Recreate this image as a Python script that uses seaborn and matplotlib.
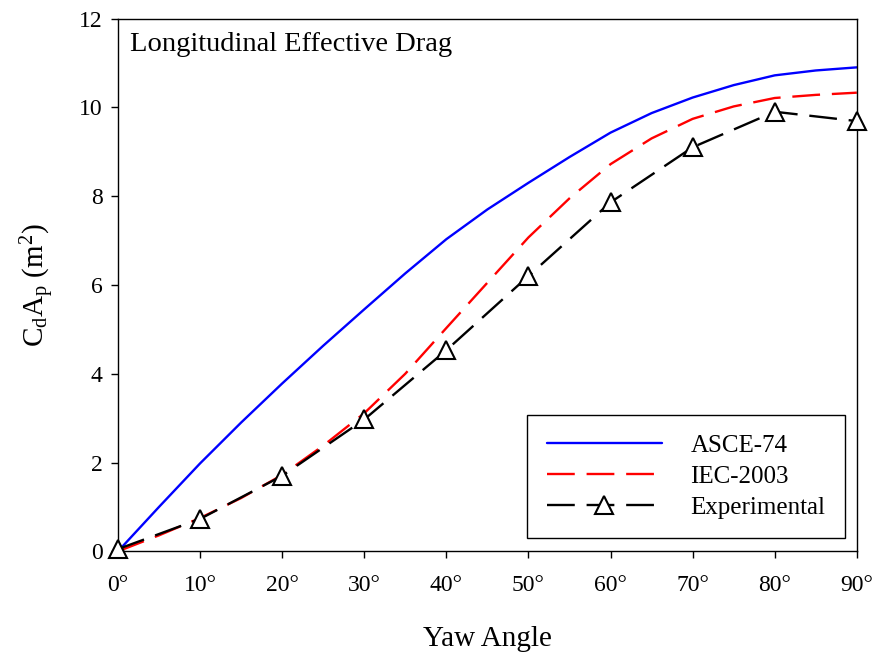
import matplotlib
matplotlib.use("Agg")
import matplotlib.pyplot as plt
import seaborn as sns

# Yaw angles (degrees)
angles_fine = [0, 5, 10, 15, 20, 25, 30, 35, 40, 45, 50, 55, 60, 65, 70, 75, 80, 85, 90]
angles_exp = [0, 10, 20, 30, 40, 50, 60, 70, 80, 90]

# Effective drag area CdAp (m^2)
asce74 = [0.0, 1.0, 1.98, 2.9, 3.78, 4.63, 5.45, 6.26, 7.03, 7.7, 8.3, 8.88, 9.43,
          9.87, 10.22, 10.5, 10.72, 10.83, 10.9]
iec2003 = [0.0, 0.36, 0.75, 1.2, 1.72, 2.38, 3.11, 4.0, 5.03, 6.05, 7.07, 7.95, 8.72,
           9.3, 9.74, 10.02, 10.21, 10.28, 10.33]
experimental = [0.05, 0.73, 1.70, 2.97, 4.53, 6.2, 7.86, 9.10, 9.90, 9.69]

x_ticks = [0, 10, 20, 30, 40, 50, 60, 70, 80, 90]
x_ticklabels = [f"{v}°" for v in x_ticks]
y_ticks = [0, 2, 4, 6, 8, 10, 12]

sns.set_style("ticks")
plt.rcParams["font.family"] = ["Liberation Serif", "DejaVu Serif"]
plt.rcParams["mathtext.fontset"] = "custom"
plt.rcParams["mathtext.rm"] = "Liberation Serif"
plt.rcParams["mathtext.it"] = "Liberation Serif:italic"
plt.rcParams["lines.scale_dashes"] = False
plt.rcParams["text.color"] = "black"
plt.rcParams["axes.labelcolor"] = "black"

fig = plt.figure(figsize=(8.77, 6.52), dpi=100)
ax = fig.add_axes([0.1345, 0.1544, 0.8425, 0.8172])

sns.lineplot(x=angles_fine, y=asce74, ax=ax, color="#0000ff", linewidth=1.7,
             label="ASCE-74", clip_on=False)
sns.lineplot(x=angles_fine, y=iec2003, ax=ax, color="#ff0000", linewidth=1.7,
             linestyle=(0, (20, 8.5)), label="IEC-2003", clip_on=False)
sns.lineplot(x=angles_exp, y=experimental, ax=ax, color="black", linewidth=1.7,
             linestyle=(0, (20, 8.5)), marker="^", markersize=13,
             markerfacecolor="white", markeredgecolor="black", markeredgewidth=1.5,
             label="Experimental", clip_on=False, zorder=5)

ax.set_xlim(0, 90)
ax.set_ylim(0, 12)
ax.set_xticks(x_ticks)
ax.set_xticklabels(x_ticklabels)
ax.set_yticks(y_ticks)
ax.tick_params(axis="both", direction="out", length=5, width=1, labelsize=17,
               colors="black")
ax.tick_params(axis="x", pad=12)
ax.tick_params(axis="y", pad=6)
for side in ["top", "right", "left", "bottom"]:
    ax.spines[side].set_visible(True)
    ax.spines[side].set_linewidth(1.0)
    ax.spines[side].set_color("black")

ax.set_xlabel("Yaw Angle", fontsize=21, labelpad=22, color="black")
ax.set_ylabel(r"$\mathregular{C_dA_p\ (m^2)}$", fontsize=21, labelpad=16, color="black")

ax.text(0.016, 0.975, "Longitudinal Effective Drag", transform=ax.transAxes,
        fontsize=20.5, va="top", ha="left", color="black")

leg = ax.legend(loc="lower right", bbox_to_anchor=(0.984, 0.025), fontsize=18,
                frameon=True, fancybox=False, edgecolor="black", framealpha=1,
                handlelength=4.6, handletextpad=1.16, labelspacing=0.33,
                borderpad=0.78, borderaxespad=0)
leg.get_frame().set_linewidth(1.0)
for t in leg.get_texts():
    t.set_color("black")

fig.savefig("out.png", dpi=100)
